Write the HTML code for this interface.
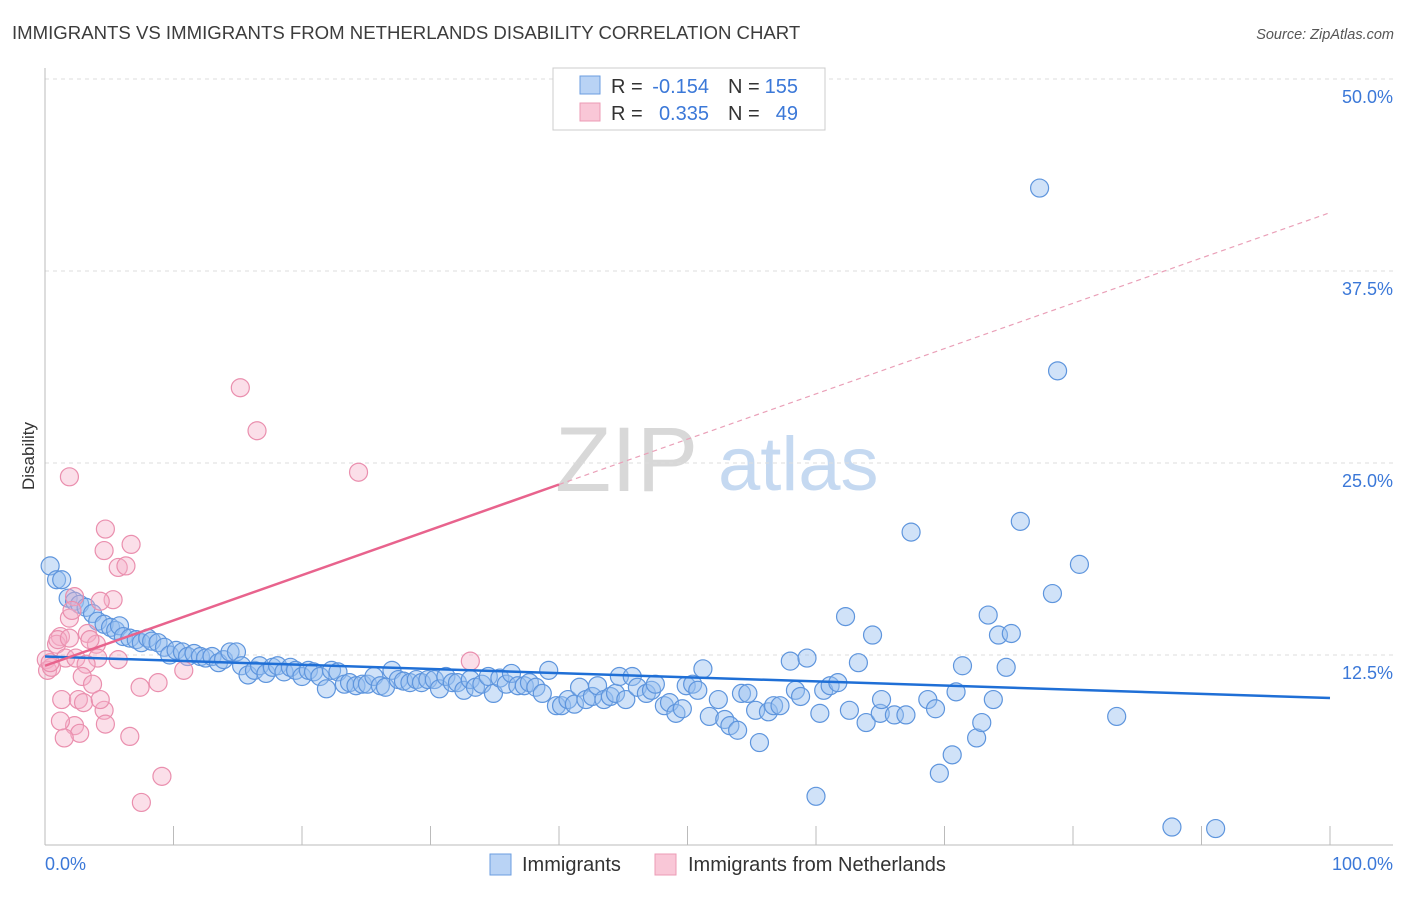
<!DOCTYPE html>
<html><head><meta charset="utf-8">
<style>
body{margin:0;background:#fff;font-family:"Liberation Sans",sans-serif;}
svg text{font-family:"Liberation Sans",sans-serif;}
</style></head>
<body>
<svg id="chart" width="1406" height="892" xmlns="http://www.w3.org/2000/svg">
<text x="12" y="39" font-size="18.6" fill="#3c3c3c">IMMIGRANTS VS IMMIGRANTS FROM NETHERLANDS DISABILITY CORRELATION CHART</text>
<text x="1394" y="39" font-size="14.5" fill="#555" text-anchor="end" font-style="italic">Source: ZipAtlas.com</text>
<g>
<text x="555" y="491" font-size="92" fill="#d8d8d8" font-family="Liberation Serif, serif">ZIP</text>
<text x="718" y="490" font-size="76" fill="#c5d9f1">atlas</text>
</g>
<g id="grid"></g>
<g id="axes"></g>
<g id="pts"></g>
<g id="lines"></g>
<text transform="translate(34,456) rotate(-90)" font-size="17" fill="#333" text-anchor="middle">Disability</text>
<g>
<rect x="553" y="68" width="272" height="62" fill="#fff" stroke="#ccc"/>
<rect x="580" y="76" width="20" height="18" fill="#b9d3f5" stroke="#6b9ee0"/>
<rect x="580" y="103" width="20" height="18" fill="#f9c7d7" stroke="#ec9bb6"/>
<text x="611" y="93" font-size="20" fill="#333">R =</text>
<text x="709" y="93" font-size="20" fill="#3b78d8" text-anchor="end">-0.154</text>
<text x="728" y="93" font-size="20" fill="#333">N =</text>
<text x="798" y="93" font-size="20" fill="#3b78d8" text-anchor="end">155</text>
<text x="611" y="120" font-size="20" fill="#333">R =</text>
<text x="709" y="120" font-size="20" fill="#3b78d8" text-anchor="end">0.335</text>
<text x="728" y="120" font-size="20" fill="#333">N =</text>
<text x="798" y="120" font-size="20" fill="#3b78d8" text-anchor="end">49</text>
</g>
<g>
<rect x="490" y="854" width="21" height="21" fill="#b9d3f5" stroke="#6b9ee0"/>
<text x="522" y="871" font-size="20" fill="#333">Immigrants</text>
<rect x="655" y="854" width="21" height="21" fill="#f9c7d7" stroke="#ec9bb6"/>
<text x="688" y="871" font-size="20" fill="#333">Immigrants from Netherlands</text>
</g>
</svg>
<script>
const blueX=[0.4,0.9,1.3,1.8,2.3,2.7,3.2,3.7,4.1,4.6,5.1,5.5,5.8,6.1,6.6,7.1,7.5,8.0,8.3,8.8,9.3,9.7,10.2,10.7,11.1,11.6,12.1,12.5,13.0,13.5,13.9,14.4,14.9,15.3,15.8,16.3,16.7,17.2,17.7,18.1,18.6,19.1,19.5,20.0,20.5,20.9,21.4,21.9,22.3,22.8,23.3,23.7,24.2,24.7,25.1,25.6,26.1,26.5,27.0,27.5,27.9,28.4,28.9,29.3,29.8,30.3,30.7,31.2,31.7,32.1,32.6,33.1,33.5,34.0,34.5,34.9,35.4,35.9,36.3,36.8,37.3,37.7,38.2,38.7,39.2,39.8,40.2,40.7,41.2,41.6,42.1,42.6,43.0,43.5,44.0,44.4,44.7,45.2,45.7,46.1,46.8,47.2,47.5,48.2,48.6,49.1,49.6,49.9,50.4,50.8,51.2,51.7,52.4,52.9,53.3,53.9,54.2,54.7,55.3,55.6,56.3,56.7,57.2,58.0,58.4,58.8,59.3,60.0,60.3,60.6,61.1,61.7,62.3,62.6,63.3,63.9,64.4,65.0,65.1,66.1,67.0,67.4,68.7,69.3,69.6,70.6,70.9,71.4,72.5,72.9,73.4,73.8,74.2,74.8,75.2,75.9,77.4,78.4,78.8,80.5,83.4,87.7,91.1];
const blueY=[18.3,17.4,17.4,16.2,16.0,15.8,15.6,15.2,14.7,14.5,14.3,14.1,14.4,13.7,13.6,13.5,13.3,13.6,13.4,13.3,13.0,12.5,12.8,12.7,12.4,12.6,12.4,12.3,12.4,12.0,12.2,12.7,12.7,11.8,11.2,11.5,11.8,11.3,11.7,11.8,11.4,11.7,11.5,11.1,11.5,11.4,11.1,10.3,11.5,11.4,10.6,10.7,10.5,10.6,10.6,11.1,10.5,10.4,11.5,10.9,10.8,10.7,10.9,10.7,10.9,10.9,10.3,11.1,10.7,10.7,10.2,10.9,10.4,10.6,11.1,10.0,11.0,10.6,11.3,10.5,10.5,10.7,10.4,10.0,11.5,9.2,9.2,9.6,9.3,10.4,9.6,9.8,10.5,9.6,9.8,10.0,11.1,9.6,11.1,10.4,10.0,10.2,10.6,9.2,9.4,8.7,9.0,10.5,10.6,10.2,11.6,8.5,9.6,8.3,7.9,7.6,10.0,10.0,8.9,6.8,8.8,9.2,9.2,12.1,10.2,9.8,12.3,3.3,8.7,10.2,10.5,10.7,15.0,8.9,12.0,8.1,13.8,8.7,9.6,8.6,8.6,20.5,9.6,9.0,4.8,6.0,10.1,11.8,7.1,8.1,15.1,9.6,13.8,11.7,13.9,21.2,42.9,16.5,31.0,18.4,8.5,1.3,1.2];
const pinkX=[1.9,15.2,16.5,24.4,4.7,4.6,6.7,5.7,6.3,5.3,2.3,1.9,2.1,3.3,1.2,0.9,1.0,1.6,0.1,0.2,0.5,0.4,4.0,4.1,2.4,3.2,2.9,3.7,1.3,2.6,3.0,4.6,4.3,2.3,1.2,2.7,1.5,4.7,6.6,7.4,8.8,10.8,33.1,9.1,7.5,4.3,3.5,5.7,1.9];
const pinkY=[24.1,29.9,27.1,24.4,20.7,19.3,19.7,18.2,18.3,16.1,16.3,14.9,15.4,13.9,13.7,13.2,13.5,12.3,12.2,11.5,11.7,12.0,13.2,12.3,12.3,11.9,11.1,10.6,9.6,9.6,9.4,8.9,9.6,7.9,8.2,7.4,7.1,8.0,7.2,10.4,10.7,11.5,12.1,4.6,2.9,16.0,13.5,12.2,13.6];
const yTicks=[12.5,25.0,37.5,50.0];
const xTickLabels=["0.0%","100.0%"];
const blueTrend=[12.4,9.7];      // y at x=0 and x=100
const pinkTrend=[11.8,41.3];     // y at x=0 and x=100
const pinkSolidEnd=40;

const X0=45,X1=1330,Y0=847,PXPERPCT=15.36;
const sx=v=>X0+(X1-X0)*v/100;
const sy=v=>Y0-v*PXPERPCT;
const NS="http://www.w3.org/2000/svg";
function mk(tag,attrs,parent){const e=document.createElementNS(NS,tag);for(const k in attrs)e.setAttribute(k,attrs[k]);parent.appendChild(e);return e;}
const grid=document.getElementById('grid'),axes=document.getElementById('axes'),pts=document.getElementById('pts'),lines=document.getElementById('lines');
yTicks.forEach(t=>{
 const l=mk('line',{x1:X0,x2:1393,y1:sy(t),y2:sy(t),stroke:'#ddd','stroke-dasharray':'4,4'},grid);
 
 
 const tx=mk('text',{x:1393,y:sy(t)+24,'font-size':18,fill:'#3b78d8','text-anchor':'end'},axes);
 tx.textContent=t.toFixed(1)+'%';
 
 
});
const ax=mk('line',{x1:X0,x2:X0,y1:68,y2:845,stroke:'#bbb'},axes);


const bx=mk('line',{x1:X0,x2:1393,y1:845,y2:845,stroke:'#bbb'},axes);


for(let i=0;i<=10;i++){
 const tk=mk('line',{x1:sx(i*10),x2:sx(i*10),y1:826,y2:845,stroke:'#bbb'},axes);
 
 
}
const xl0=mk('text',{x:45,y:870,'font-size':18,fill:'#3b78d8'},axes);xl0.textContent=xTickLabels[0];


const xl1=mk('text',{x:1393,y:870,'font-size':18,fill:'#3b78d8','text-anchor':'end'},axes);xl1.textContent=xTickLabels[1];


blueX.forEach((v,i)=>{
 const c=mk('circle',{cx:sx(v),cy:sy(blueY[i]),r:9,fill:'rgba(150,190,240,0.45)',stroke:'#5e95dd','stroke-width':1.2},pts);
 
 
});
pinkX.forEach((v,i)=>{
 const c=mk('circle',{cx:sx(v),cy:sy(pinkY[i]),r:9,fill:'rgba(245,175,200,0.4)',stroke:'#ea8fae','stroke-width':1.2},pts);
 
 
});
const pAt=x=>pinkTrend[0]+(pinkTrend[1]-pinkTrend[0])*x/100;
const bl=mk('line',{x1:sx(0),y1:sy(blueTrend[0]),x2:sx(100),y2:sy(blueTrend[1]),stroke:'#1f6fd6','stroke-width':2.5},lines);


const pl=mk('line',{x1:sx(0),y1:sy(pAt(0)),x2:sx(pinkSolidEnd),y2:sy(pAt(pinkSolidEnd)),stroke:'#e8638d','stroke-width':2.5},lines);


const pd=mk('line',{x1:sx(pinkSolidEnd),y1:sy(pAt(pinkSolidEnd)),x2:sx(100),y2:sy(pAt(100)),stroke:'#eaa0b8','stroke-width':1.2,'stroke-dasharray':'5,4'},lines);


</script>
</body></html>
